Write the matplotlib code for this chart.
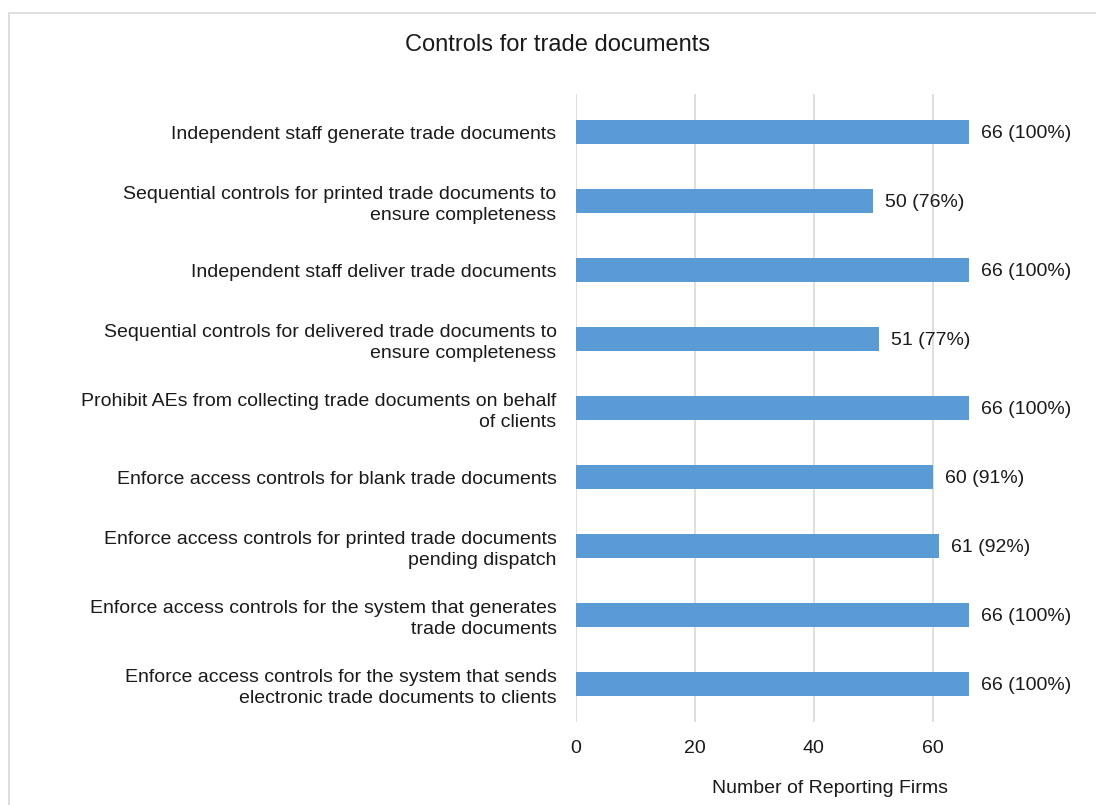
import matplotlib.pyplot as plt
from matplotlib.patches import Rectangle

plt.rcParams['font.family'] = ['Liberation Sans', 'DejaVu Sans']

categories = [
    "Independent staff generate trade documents",
    "Sequential controls for printed trade documents to\nensure completeness",
    "Independent staff deliver trade documents",
    "Sequential controls for delivered trade documents to\nensure completeness",
    "Prohibit AEs from collecting trade documents on behalf\nof clients",
    "Enforce access controls for blank trade documents",
    "Enforce access controls for printed trade documents\npending dispatch",
    "Enforce access controls for the system that generates\ntrade documents",
    "Enforce access controls for the system that sends\nelectronic trade documents to clients",
]
counts = [66, 50, 66, 51, 66, 60, 61, 66, 66]
percents = [100, 76, 100, 77, 100, 91, 92, 100, 100]

fs = 14
fig = plt.figure(figsize=(10.96, 8.05), dpi=100)
ax = fig.add_axes([0.5255, 0.103, 0.38, 0.780])

# light frame around the chart area
fig.patches.append(Rectangle((9 / 1096, -0.1), 1.2, 1 - 13 / 805 + 0.1,
                             transform=fig.transFigure, fill=False,
                             edgecolor='#D9D9D9', linewidth=1.2))

y = list(range(len(categories)))
ax.barh(y, counts, height=0.35, color='#5B9BD5', zorder=3)
for yi, c, p in zip(y, counts, percents):
    ax.text(c + 2, yi + 0.02, f"{c} ({p}%)", va='center', ha='left', fontsize=fs, color='#1a1a1a')

ax.set_yticks(y)
ax.set_yticklabels(categories, fontsize=fs, color='#1a1a1a', linespacing=1.3)
ax.set_ylim(8.55, -0.55)
ax.set_xlim(0, 70)
ax.set_xticks([0, 20, 40, 60])
ax.tick_params(axis='x', labelsize=fs, colors='#1a1a1a', length=0, pad=13)
ax.tick_params(axis='y', length=0, pad=14)
ax.grid(axis='x', color='#D9D9D9', linewidth=1.2, zorder=0)
for s in ax.spines.values():
    s.set_visible(False)

ax.set_xlabel("Number of Reporting Firms", fontsize=fs, color='#1a1a1a')
ax.xaxis.set_label_coords((830 - 576) / (992 - 576), -0.093)
fig.text(558 / 1096, 1 - 45 / 805, "Controls for trade documents", ha='center', va='center',
         fontsize=17, color='#1a1a1a')

fig.savefig('out.png', dpi=100)
